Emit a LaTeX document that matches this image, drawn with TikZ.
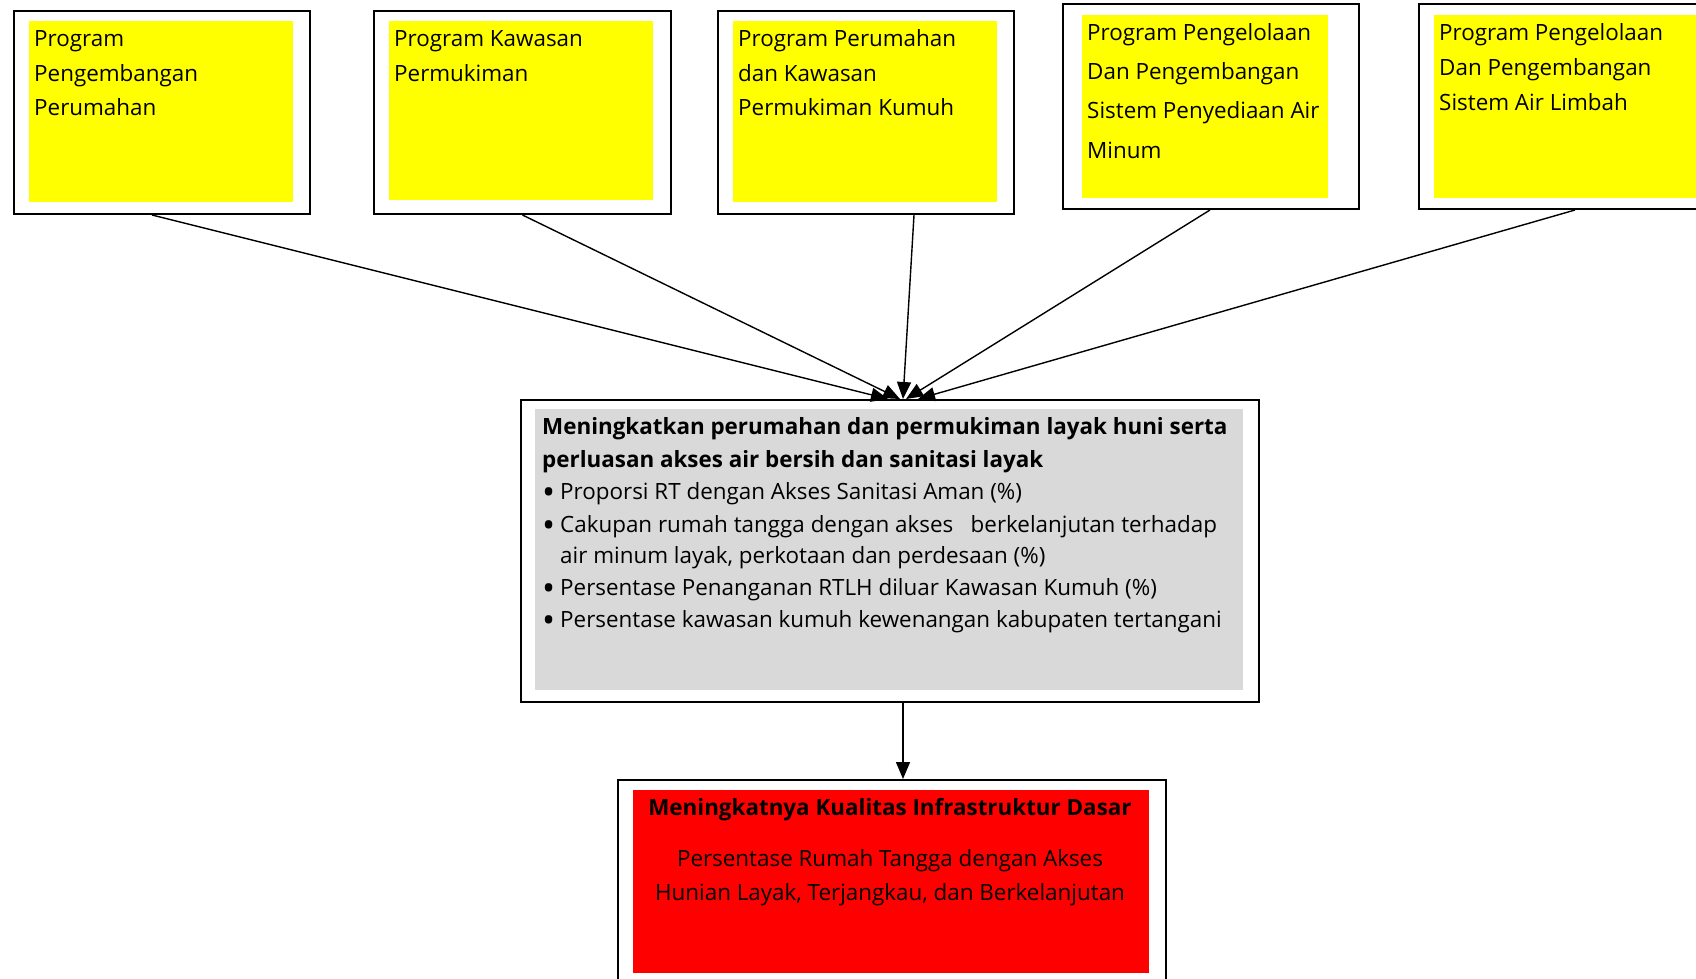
\documentclass[tikz,border=0pt]{standalone}
\usepackage{fontspec}
\setmainfont{Open Sans}
\usetikzlibrary{arrows.meta,calc}
\definecolor{ybox}{HTML}{FFFF00}
\definecolor{gbox}{HTML}{D9D9D9}
\definecolor{rbox}{HTML}{FF0000}
\newcommand{\tfont}{\fontsize{22.4}{26}\selectfont}
\newcommand{\bul}{\makebox[18pt][l]{\raisebox{-0.24em}{\scalebox{1.55}{\textbullet}}}}
\tikzset{
  obox/.style={draw=black, line width=2pt, fill=white, anchor=north west, inner sep=0pt},
  txt/.style={anchor=base west, inner sep=0pt, font=\tfont},
  ctxt/.style={anchor=base, inner sep=0pt, font=\tfont},
  conn/.style={line width=1.4pt, -{Triangle[length=17pt,width=14pt]}},
}
\begin{document}
\begin{tikzpicture}[x=1pt,y=-1pt]
\useasboundingbox (0,0) rectangle (1696,979);
% outer boxes
\node[obox, minimum width=296pt, minimum height=203pt] (b1) at (13,10) {};
\node[obox, minimum width=297pt, minimum height=203pt] (b2) at (373,10) {};
\node[obox, minimum width=296pt, minimum height=203pt] (b3) at (717,10) {};
\node[obox, minimum width=296pt, minimum height=205pt] (b4) at (1062,3) {};
\node[obox, minimum width=296pt, minimum height=205pt] (b5) at (1418,3) {};
\node[obox, minimum width=738pt, minimum height=302pt] (mid) at (520,399) {};
\node[obox, minimum width=548pt, minimum height=220pt] (bot) at (617,779) {};
% inner fills
\fill[ybox] (29,21) rectangle (293,202);
\fill[ybox] (389,21) rectangle (653,200);
\fill[ybox] (733,21) rectangle (997,202);
\fill[ybox] (1082,15) rectangle (1328,198);
\fill[ybox] (1434,15) rectangle (1700,198);
\fill[gbox] (535,409) rectangle (1243,690);
\fill[rbox] (633,790) rectangle (1149,973);
% texts box 1
\node[txt] (t1a) at (34,47) {Program};
\node[txt] (t1b) at (34,81.6) {Pengembangan};
\node[txt] (t1c) at (34,116) {Perumahan};
% box 2
\node[txt] (t2a) at (394,47) {Program Kawasan};
\node[txt] (t2b) at (394,81.6) {Permukiman};
% box 3
\node[txt] (t3a) at (738,47) {Program Perumahan};
\node[txt] (t3b) at (738,81.6) {dan Kawasan};
\node[txt] (t3c) at (738,116) {Permukiman Kumuh};
% box 4
\node[txt] (t4a) at (1087,41) {Program Pengelolaan};
\node[txt] (t4b) at (1087,80) {Dan Pengembangan};
\node[txt] (t4c) at (1087,119) {Sistem Penyediaan Air};
\node[txt] (t4d) at (1087,158) {Minum};
% box 5
\node[txt] (t5a) at (1439,41) {Program Pengelolaan};
\node[txt] (t5b) at (1439,76) {Dan Pengembangan};
\node[txt] (t5c) at (1439,111) {Sistem Air Limbah};
% middle
\node[txt, font=\tfont\bfseries] (m1) at (542,434) {Meningkatkan perumahan dan permukiman layak huni serta};
\node[txt, font=\tfont\bfseries] (m2) at (542,467) {perluasan akses air bersih dan sanitasi layak};
\node[txt] (m3) at (542,499) {\bul Proporsi RT dengan Akses Sanitasi Aman (\%)};
\node[txt] (m4) at (542,532) {\bul Cakupan rumah tangga dengan akses\ \ \ berkelanjutan terhadap};
\node[txt] (m5) at (542,563) {\hspace*{18pt}air minum layak, perkotaan dan perdesaan (\%)};
\node[txt] (m6) at (542,595) {\bul Persentase Penanganan RTLH diluar Kawasan Kumuh (\%)};
\node[txt] (m7) at (542,627) {\bul Persentase kawasan kumuh kewenangan kabupaten tertangani};
% bottom
\node[ctxt, font=\tfont\bfseries] (r1) at (890,815) {Meningkatnya Kualitas Infrastruktur Dasar};
\node[ctxt] (r2) at (890,866) {Persentase Rumah Tangga dengan Akses};
\node[ctxt] (r3) at (890,900) {Hunian Layak, Terjangkau, dan Berkelanjutan};
% connector endpoints
\coordinate (s1) at ($(b1.south)+(-10,0)$);
\coordinate (s2) at ($(b2.south)+(0,0)$);
\coordinate (s3) at ($(b3.south)+(48,0)$);
\coordinate (s4) at ($(b4.south)+(-1,0)$);
\coordinate (s5) at ($(b5.south)+(8,0)$);
\coordinate (e1) at (888,399);
\coordinate (e2) at (900,399);
\coordinate (e3) at (903,399);
\coordinate (e4) at (906,399);
\coordinate (e5) at (918,399);
\draw[conn] (s1) -- (e1);
\draw[conn] (s2) -- (e2);
\draw[conn] (s3) -- (e3);
\draw[conn] (s4) -- (e4);
\draw[conn] (s5) -- (e5);
\coordinate (ms) at (903,701);
\coordinate (be) at (903,779);
\draw[conn] (ms) -- (be);
\end{tikzpicture}
\end{document}
